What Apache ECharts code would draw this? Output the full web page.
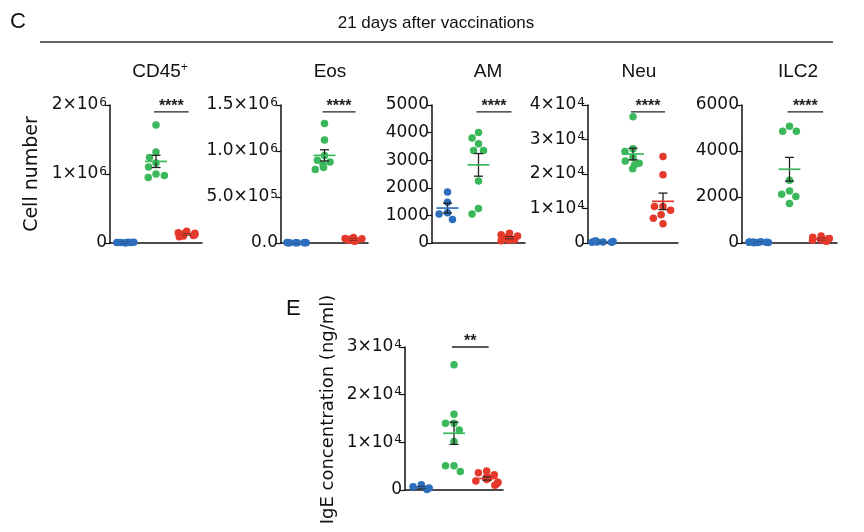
<!DOCTYPE html>
<html>
<head>
<meta charset="utf-8">
<script src="https://cdn.jsdelivr.net/npm/echarts@6/dist/echarts.min.js"></script>
<style>
  html, body { margin: 0; padding: 0; background: #fff; }
  #chart { width: 864px; height: 532px; }
</style>
</head>
<body>
<div id="chart"></div>
<script>
// groups (labels are not printed on the x axes)
var groups = ['g1', 'g2', 'g3'];
var groupColors = ['#2d6fbd', '#3bb85b', '#e5392b'];

// CD45+
var cd45Blue = [5000, 9000, 12000, 7000, 4000, 10000, 6000, 8000];
var cd45Green = [1710000, 1320000, 1240000, 1160000, 1100000, 1000000, 980000, 950000];
var cd45Red = [170000, 150000, 140000, 130000, 120000, 110000, 100000, 90000];
var cd45Ticks = ['0', '1×10{s|6}', '2×10{s|6}'];

// Eos
var eosBlue = [3000, 5000, 2000, 4000, 6000, 3000, 2000, 4000];
var eosGreen = [1300000, 1120000, 950000, 900000, 880000, 850000, 820000, 800000];
var eosRed = [60000, 50000, 45000, 40000, 35000, 30000, 25000, 20000];
var eosTicks = ['0.0', '5.0×10{s|5}', '1.0×10{s|6}', '1.5×10{s|6}'];

// AM
var amBlue = [1850, 1480, 1100, 1050, 850];
var amGreen = [4000, 3800, 3600, 3350, 3350, 2250, 1250, 1050];
var amRed = [350, 300, 250, 200, 150, 120, 100, 80];
var amTicks = ['0', '1000', '2000', '3000', '4000', '5000'];

// Neu
var neuBlue = [300, 500, 200, 400, 600, 300, 200, 400];
var neuGreen = [36600, 27300, 26500, 24800, 23800, 23100, 22700, 21500];
var neuRed = [25100, 19800, 10600, 10600, 9500, 8200, 7200, 5600];
var neuTicks = ['0', '1×10{s|4}', '2×10{s|4}', '3×10{s|4}', '4×10{s|4}'];

// ILC2
var ilcBlue = [20, 40, 30, 10, 50, 30, 20, 40];
var ilcGreen = [5080, 4860, 4860, 2730, 2265, 2120, 2020, 1720];
var ilcRed = [300, 250, 200, 180, 150, 120, 100, 80];
var ilcTicks = ['0', '2000', '4000', '6000'];

// IgE
var igeBlue = [1100, 700, 400, 200, 100];
var igeGreen = [26300, 15900, 14000, 14000, 12600, 10200, 5100, 5100, 3900];
var igeRed = [4000, 3600, 3200, 2800, 2500, 2200, 1900, 1600, 1300, 1000];
var igeTicks = ['0', '1×10{s|4}', '2×10{s|4}', '3×10{s|4}'];

var panelTitles = ['CD45{s|+}', 'Eos', 'AM', 'Neu', 'ILC2'];
var sigLabels = ['****', '****', '****', '****', '****', '**'];
var sigLevels = [1900000, 1425000, 4750, 38000, 5700, 30000];

var chart = echarts.init(document.getElementById('chart'));

var sansFont = '"Liberation Sans", Arial, sans-serif';
var wideFont = '"DejaVu Sans", sans-serif';
var labelRich = { s: { fontSize: 12, fontFamily: wideFont, verticalAlign: 'top', lineHeight: 9, padding: [0, 0, 0, 1], color: '#111' } };

function mean(a) {
  var s = 0;
  for (var i = 0; i < a.length; i++) s += a[i];
  return s / a.length;
}
function sem(a) {
  var m = mean(a), s = 0;
  for (var i = 0; i < a.length; i++) s += (a[i] - m) * (a[i] - m);
  return Math.sqrt(s / (a.length - 1)) / Math.sqrt(a.length);
}

function renderMean(params, api) {
  var idx = api.value(0), m = api.value(1), e = api.value(2);
  var c = api.coord([idx, m]);
  var hi = api.coord([idx, m + e]);
  var lo = api.coord([idx, m - e]);
  return {
    type: 'group',
    children: [
      { type: 'line', shape: { x1: c[0], y1: hi[1], x2: c[0], y2: lo[1] }, style: { stroke: '#222', lineWidth: 1.3 } },
      { type: 'line', shape: { x1: c[0] - 4.5, y1: hi[1], x2: c[0] + 4.5, y2: hi[1] }, style: { stroke: '#222', lineWidth: 1.3 } },
      { type: 'line', shape: { x1: c[0] - 4.5, y1: lo[1], x2: c[0] + 4.5, y2: lo[1] }, style: { stroke: '#222', lineWidth: 1.3 } },
      { type: 'line', shape: { x1: c[0] - 11, y1: c[1], x2: c[0] + 11, y2: c[1] }, style: { stroke: groupColors[idx], lineWidth: 1.7 } }
    ]
  };
}

function makeSig(label) {
  return function (params, api) {
    var a = api.coord([api.value(0), api.value(2)]);
    var b = api.coord([api.value(1), api.value(2)]);
    return {
      type: 'group',
      children: [
        { type: 'line', shape: { x1: a[0] - 2, y1: a[1], x2: b[0] + 2, y2: b[1] }, style: { stroke: '#222', lineWidth: 1.3 } },
        { type: 'text', x: (a[0] + b[0]) / 2, y: a[1] - 5,
          style: { text: label, fill: '#222', font: 'bold 16px ' + sansFont, align: 'center', verticalAlign: 'middle' } }
      ]
    };
  };
}

var panels = [
  { grid: { left: 110, top: 105, width: 92, height: 138 }, max: 2000000, interval: 1000000, ticks: cd45Ticks, sets: [cd45Blue, cd45Green, cd45Red], name: 'Cell number', nameSize: 19, namePad: [0, 0, 0, 0] },
  { grid: { left: 281, top: 105, width: 87, height: 138 }, max: 1500000, interval: 500000, ticks: eosTicks, sets: [eosBlue, eosGreen, eosRed] },
  { grid: { left: 432, top: 105, width: 93, height: 138 }, max: 5000, interval: 1000, ticks: amTicks, sets: [amBlue, amGreen, amRed] },
  { grid: { left: 588, top: 105, width: 90, height: 138 }, max: 40000, interval: 10000, ticks: neuTicks, sets: [neuBlue, neuGreen, neuRed] },
  { grid: { left: 742, top: 105, width: 95, height: 138 }, max: 6000, interval: 2000, ticks: ilcTicks, sets: [ilcBlue, ilcGreen, ilcRed] },
  { grid: { left: 405, top: 347, width: 98, height: 143 }, max: 30000, interval: 10000, ticks: igeTicks, sets: [igeBlue, igeGreen, igeRed], name: 'IgE concentration (ng/ml)', nameSize: 18, namePad: [0, 0, 0, 18] }
];

var grids = [], xAxes = [], yAxes = [], series = [];

panels.forEach(function (p, i) {
  p.grid.outerBoundsMode = 'none';
  p.grid.containLabel = false;
  grids.push(p.grid);
  xAxes.push({
    type: 'category', gridIndex: i, data: groups,
    jitter: 24, jitterOverlap: false, jitterMargin: 1,
    axisLine: { lineStyle: { color: '#111', width: 1.5 } },
    axisTick: { alignWithLabel: true, length: 4, lineStyle: { color: '#111', width: 1 } },
    axisLabel: { show: false },
    splitLine: { show: false }
  });
  yAxes.push({
    type: 'value', gridIndex: i, min: 0, max: p.max, interval: p.interval,
    name: p.name || '', nameLocation: 'middle', nameGap: 68,
    nameTextStyle: { color: '#111', fontSize: p.nameSize || 19, fontFamily: wideFont, padding: p.namePad || 0 },
    axisLine: { show: true, lineStyle: { color: '#111', width: 1.5 } },
    axisTick: { show: true, length: 5, lineStyle: { color: '#111', width: 1.2 } },
    splitLine: { show: false },
    axisLabel: {
      color: '#111', fontSize: 17, margin: 3,
      fontFamily: wideFont,
      rich: labelRich,
      formatter: (function (ticks, step) {
        return function (v) { return ticks[Math.round(v / step)]; };
      })(p.ticks, p.interval)
    }
  });
  var meanData = [];
  p.sets.forEach(function (vals, g) {
    series.push({
      type: 'scatter', xAxisIndex: i, yAxisIndex: i,
      symbolSize: 7.5,
      itemStyle: { color: groupColors[g], opacity: 1 },
      data: vals.map(function (v) { return [g, v]; }),
      z: 2
    });
    meanData.push([g, mean(vals), sem(vals)]);
  });
  series.push({
    type: 'custom', xAxisIndex: i, yAxisIndex: i,
    renderItem: renderMean, data: meanData, z: 5, silent: true
  });
  series.push({
    type: 'custom', xAxisIndex: i, yAxisIndex: i,
    renderItem: makeSig(sigLabels[i]), data: [[1, 2, sigLevels[i]]], z: 5, silent: true
  });
});

var titles = [
  { text: 'C', left: 5, top: 6, textStyle: { fontSize: 22, fontWeight: 'normal', color: '#111', fontFamily: sansFont } },
  { text: '21 days after vaccinations', left: 431, top: 10, textAlign: 'center', textStyle: { fontSize: 17, fontWeight: 'normal', color: '#111', fontFamily: sansFont } },
  { text: 'E', left: 281, top: 293, textStyle: { fontSize: 22, fontWeight: 'normal', color: '#111', fontFamily: sansFont } }
];
var titleCenters = [155, 325, 483, 634, 793];
panelTitles.forEach(function (t, i) {
  titles.push({
    text: t, left: titleCenters[i], top: 57, textAlign: 'center',
    textStyle: { fontSize: 19, fontWeight: 'normal', color: '#111', fontFamily: sansFont, rich: { s: { fontSize: 12, verticalAlign: 'top', lineHeight: 10, color: '#111' } } }
  });
});

chart.setOption({
  backgroundColor: '#fff',
  animation: false,
  title: titles,
  grid: grids,
  xAxis: xAxes,
  yAxis: yAxes,
  series: series,
  graphic: [
    { type: 'line', shape: { x1: 40, y1: 42, x2: 833, y2: 42 }, style: { stroke: '#333', lineWidth: 1.5 } }
  ]
});
</script>
</body>
</html>
